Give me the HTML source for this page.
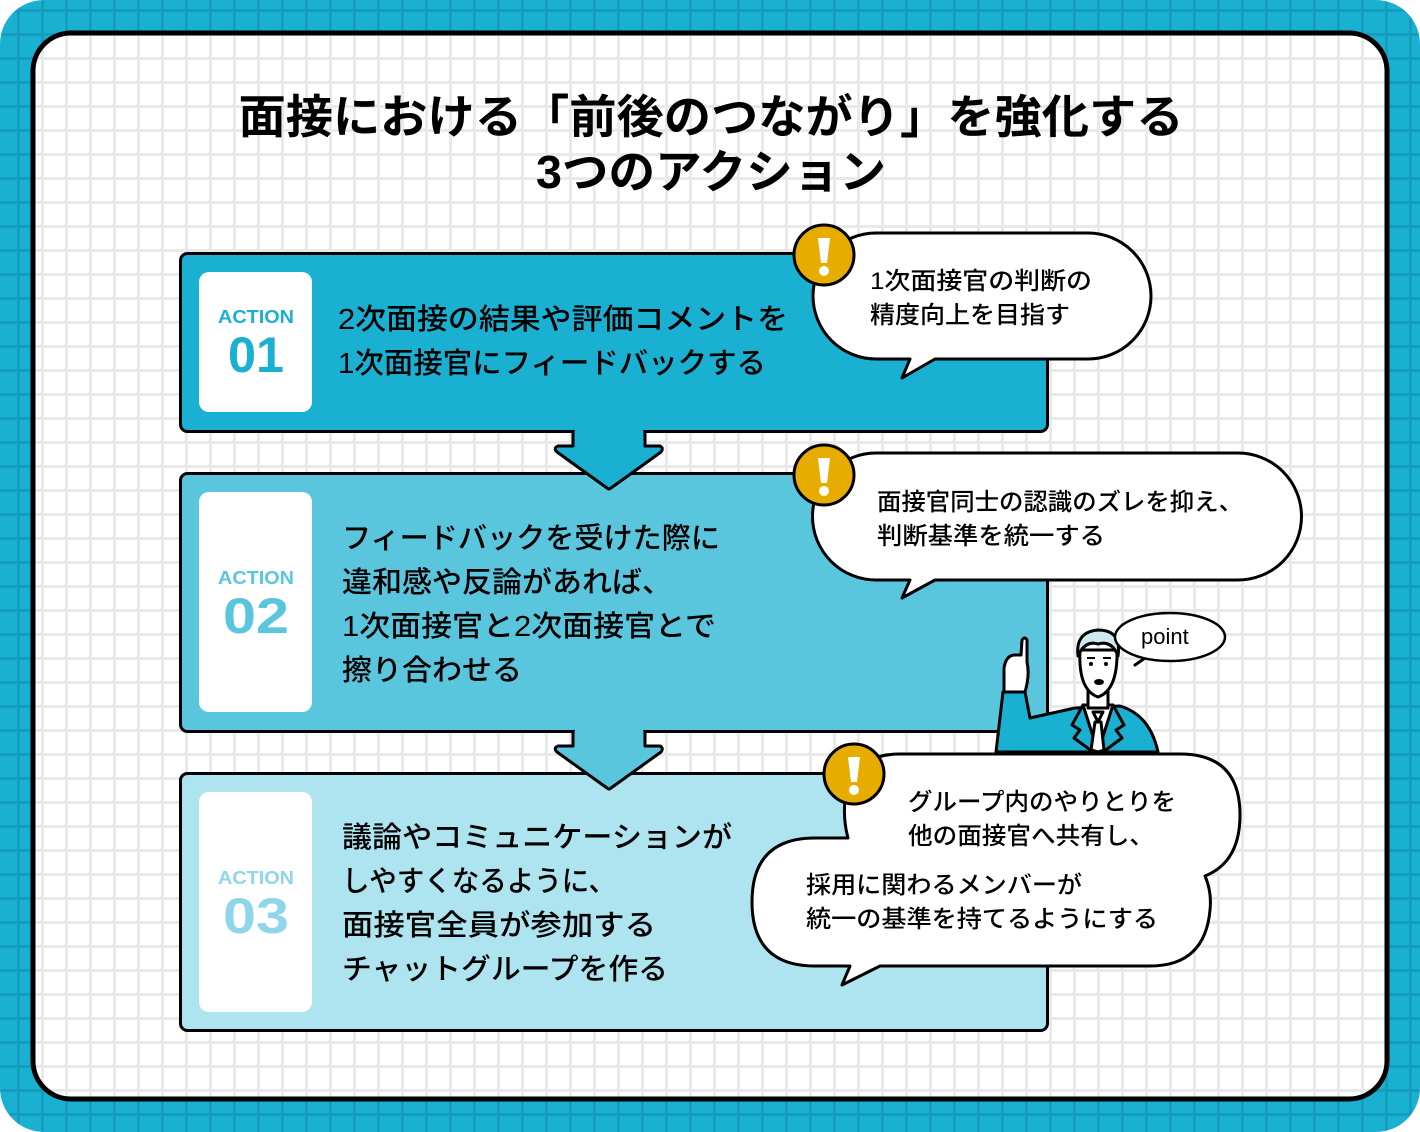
<!DOCTYPE html>
<html><head><meta charset="utf-8"><style>
html,body{margin:0;padding:0;background:#fff}
svg{display:block}
text{font-family:"Liberation Sans","Noto Sans CJK JP",sans-serif}
</style></head><body>
<svg width="1420" height="1132" viewBox="0 0 1420 1132" xmlns="http://www.w3.org/2000/svg">
<defs>
<pattern id="gb" x="17" y="9" width="24" height="24" patternUnits="userSpaceOnUse">
<rect width="24" height="24" fill="#19b0d2"/><path d="M0 1.5H24M1.5 0V24" stroke="#139ebd" stroke-width="3"/></pattern>
<pattern id="gw" x="17" y="9" width="24" height="24" patternUnits="userSpaceOnUse">
<rect width="24" height="24" fill="#fff"/><path d="M0 1.5H24M1.5 0V24" stroke="#e9e9e9" stroke-width="3"/></pattern>
</defs>
<rect x="0" y="0" width="1420" height="1132" rx="44" fill="url(#gb)"/>
<rect x="33" y="33" width="1354" height="1066" rx="38" fill="url(#gw)" stroke="#000" stroke-width="5"/>

<g font-weight="bold" font-size="46" text-anchor="middle" fill="#000">
<text x="711" y="133" textLength="945" lengthAdjust="spacingAndGlyphs">面接における「前後のつながり」を強化する</text>
<text x="711" y="188" textLength="350" lengthAdjust="spacingAndGlyphs">3つのアクション</text>
</g>

<rect x="180.5" y="253.5" width="867" height="178" rx="7" fill="#19b0d2" stroke="#000" stroke-width="3"/>
<rect x="180.5" y="473.5" width="867" height="258" rx="7" fill="#5ac6de" stroke="#000" stroke-width="3"/>
<rect x="180.5" y="773.5" width="867" height="257" rx="7" fill="#aee3f0" stroke="#000" stroke-width="3"/>

<path d="M573 431 V446 H558 Q553 448 557 452 L607 488 Q609 490 611 488 L661 452 Q664 448 660 446 H645 V431" fill="#19b0d2" stroke="#000" stroke-width="3" stroke-linejoin="round"/>
<rect x="575" y="428" width="68" height="6" fill="#19b0d2"/>
<path d="M573 731 V746 H558 Q553 748 557 752 L607 788 Q609 790 611 788 L661 752 Q664 748 660 746 H645 V731" fill="#5ac6de" stroke="#000" stroke-width="3" stroke-linejoin="round"/>
<rect x="575" y="728" width="68" height="6" fill="#5ac6de"/>

<rect x="199" y="272" width="113" height="140" rx="10" fill="#fff"/>
<rect x="199" y="492" width="113" height="220" rx="10" fill="#fff"/>
<rect x="199" y="792" width="113" height="220" rx="10" fill="#fff"/>
<g font-weight="bold" text-anchor="middle">
<text x="256" y="323" font-size="18" fill="#19b0d2" textLength="76" lengthAdjust="spacingAndGlyphs">ACTION</text>
<text x="256" y="372" font-size="50" fill="#19b0d2" textLength="56" lengthAdjust="spacingAndGlyphs">01</text>
<text x="256" y="584" font-size="18" fill="#5ac6de" textLength="76" lengthAdjust="spacingAndGlyphs">ACTION</text>
<text x="256" y="633" font-size="50" fill="#5ac6de" textLength="66" lengthAdjust="spacingAndGlyphs">02</text>
<text x="256" y="884" font-size="18" fill="#8fd6ea" textLength="76" lengthAdjust="spacingAndGlyphs">ACTION</text>
<text x="256" y="933" font-size="50" fill="#8fd6ea" textLength="66" lengthAdjust="spacingAndGlyphs">03</text>
</g>

<g font-size="29" fill="#000" font-weight="500">
<text x="338" y="329" textLength="450" lengthAdjust="spacingAndGlyphs">2次面接の結果や評価コメントを</text>
<text x="338" y="373" textLength="428" lengthAdjust="spacingAndGlyphs">1次面接官にフィードバックする</text>
<text x="342" y="548" textLength="378" lengthAdjust="spacingAndGlyphs">フィードバックを受けた際に</text>
<text x="342" y="592" textLength="330" lengthAdjust="spacingAndGlyphs">違和感や反論があれば、</text>
<text x="342" y="636" textLength="374" lengthAdjust="spacingAndGlyphs">1次面接官と2次面接官とで</text>
<text x="342" y="680" textLength="180" lengthAdjust="spacingAndGlyphs">擦り合わせる</text>
<text x="342" y="847" textLength="390" lengthAdjust="spacingAndGlyphs">議論やコミュニケーションが</text>
<text x="342" y="891" textLength="274" lengthAdjust="spacingAndGlyphs">しやすくなるように、</text>
<text x="342" y="935" textLength="314" lengthAdjust="spacingAndGlyphs">面接官全員が参加する</text>
<text x="342" y="979" textLength="326" lengthAdjust="spacingAndGlyphs">チャットグループを作る</text>
</g>

<g stroke="#000" stroke-width="3" stroke-linejoin="round" stroke-linecap="round">
<path d="M996 752 L1003 692 L1025 692 L1030 718 L1075 708 L1120 706 Q1150 715 1158 752 Z" fill="#19b0d2"/>
<path d="M1004 692 L1004 668 Q1006 655 1015 655 L1021 655 L1022 640 Q1025 636 1027 640 L1027 662 Q1030 675 1025 692 Z" fill="#fff"/>
<path d="M1083 705 L1098 752 L1113 705 Z" fill="#fff"/>
<path d="M1093 712 L1098 722 L1103 712 Z M1095 722 L1091 750 L1098 752 L1104 750 L1101 722Z" fill="#fff"/>
<path d="M1083 705 L1072 725 L1080 730 L1074 738 L1093 752 M1113 705 L1124 725 L1116 730 L1122 738 L1103 752" fill="none"/>
<path d="M1088 688 L1088 708 L1108 708 L1108 688" fill="#fff"/>
<path d="M1080 650 Q1078 690 1098 697 Q1118 690 1117 650 Z" fill="#fff"/>
<path d="M1078 656 Q1075 632 1098 630 Q1122 630 1118 656 Q1112 640 1098 644 Q1085 640 1078 656 Z" fill="#cfe9f2"/>
<path d="M1135 665 L1148 656" fill="none"/>
</g>
<g fill="#000"><rect x="1087" y="657" width="8" height="2"/><rect x="1103" y="657" width="8" height="2"/><circle cx="1091" cy="664" r="2"/><circle cx="1106" cy="664" r="2"/><ellipse cx="1099" cy="682" rx="5" ry="3"/></g>
<ellipse cx="1170" cy="637" rx="55" ry="24" fill="#fff" stroke="#000" stroke-width="2.5"/>
<text x="1141" y="644" font-size="22" fill="#000">point</text>

<path d="M876 233 H1088 A62 62 0 0 1 1088 359 H935 L902 378 L910 359 H876 A62 62 0 0 1 876 233 Z" fill="#fff" stroke="#000" stroke-width="3" stroke-linejoin="round"/>
<circle cx="824" cy="255" r="30" fill="#e6ad00" stroke="#000" stroke-width="3"/>
<path d="M876 453 H1238 A63 63 0 0 1 1238 580 H935 L902 598 L910 580 H876 A63 63 0 0 1 876 453 Z" fill="#fff" stroke="#000" stroke-width="3" stroke-linejoin="round"/>
<circle cx="824" cy="475" r="30" fill="#e6ad00" stroke="#000" stroke-width="3"/>
<path d="M900 754 H1180 Q1240 754 1240 815 Q1240 862 1205 876 Q1212 892 1210 910 Q1205 966 1150 966 H880 L842 985 L850 966 H815 Q752 966 752 902 Q752 838 815 838 H848 Q843 820 845 800 Q852 754 900 754 Z" fill="#fff" stroke="#000" stroke-width="3" stroke-linejoin="round"/>
<circle cx="854" cy="774" r="30" fill="#e6ad00" stroke="#000" stroke-width="3"/>

<g fill="#fff">
<path d="M818 238 H830 L827 263 H821 Z"/><circle cx="824" cy="271" r="5"/>
<path d="M818 458 H830 L827 483 H821 Z"/><circle cx="824" cy="491" r="5"/>
<path d="M848 757 H860 L857 782 H851 Z"/><circle cx="854" cy="790" r="5"/>
</g>

<g font-size="24" fill="#000" font-weight="500">
<text x="870" y="289" textLength="222" lengthAdjust="spacingAndGlyphs">1次面接官の判断の</text>
<text x="870" y="323" textLength="200" lengthAdjust="spacingAndGlyphs">精度向上を目指す</text>
<text x="877" y="510" textLength="366" lengthAdjust="spacingAndGlyphs">面接官同士の認識のズレを抑え、</text>
<text x="877" y="544" textLength="228" lengthAdjust="spacingAndGlyphs">判断基準を統一する</text>
<text x="908" y="810" textLength="268" lengthAdjust="spacingAndGlyphs">グループ内のやりとりを</text>
<text x="908" y="844" textLength="246" lengthAdjust="spacingAndGlyphs">他の面接官へ共有し、</text>
<text x="806" y="893" textLength="276" lengthAdjust="spacingAndGlyphs">採用に関わるメンバーが</text>
<text x="806" y="927" textLength="352" lengthAdjust="spacingAndGlyphs">統一の基準を持てるようにする</text>
</g>
</svg>
</body></html>
